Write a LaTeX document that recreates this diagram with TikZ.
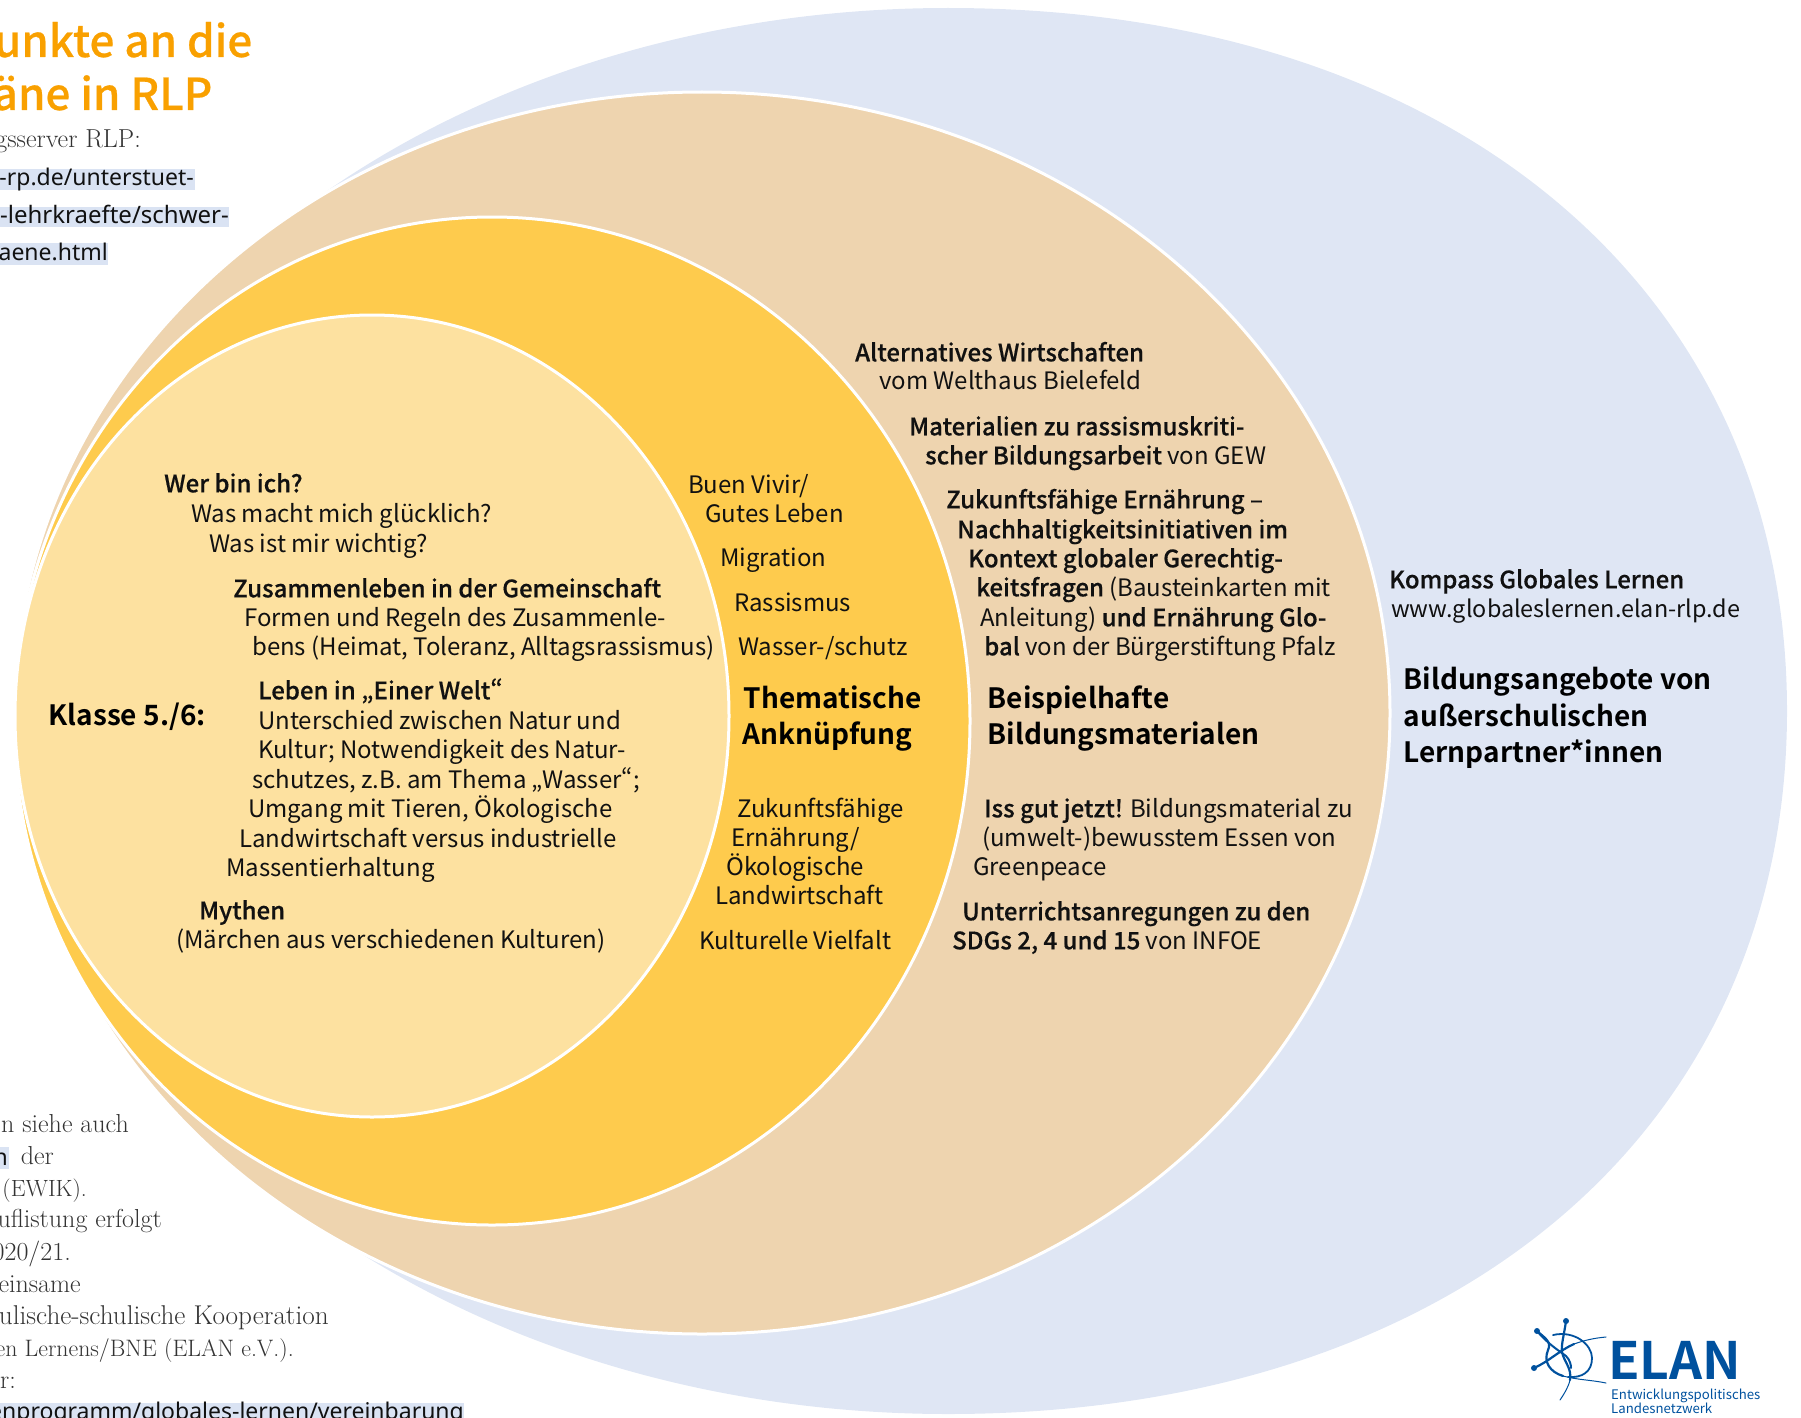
\documentclass[tikz,border=0pt]{standalone}
\usepackage{fontspec}
\setmainfont{Noto Sans CJK SC}[BoldFont={Noto Sans CJK SC Medium},BoldFeatures={FakeBold=0.45},RawFeature=+pwid]
\newfontfamily\headface{Noto Sans CJK SC Bold}[RawFeature=+pwid]
\newfontfamily\serifface{Latin Modern Roman}
\newfontfamily\linkface{Noto Sans}
\definecolor{blueback}{HTML}{DFE6F4}
\definecolor{tanring}{HTML}{EED4AF}
\definecolor{yellowring}{HTML}{FECB4D}
\definecolor{innerring}{HTML}{FDE1A0}
\definecolor{titleorange}{HTML}{F9A000}
\definecolor{linkback}{HTML}{DAE3F3}
\definecolor{elanblue}{HTML}{00519E}
\definecolor{greytext}{HTML}{333333}
\definecolor{inktext}{HTML}{111111}
\newcounter{tn}
\newcommand\tl[3]{\stepcounter{tn}\node[bodytext] (t\thetn) at (#1-1,#2+0.3) {#3};}
\newcommand\tb[3]{\stepcounter{tn}\node[headtext] (t\thetn) at (#1-1.5,#2+0.7) {#3};}
\newcommand\ts[4][26]{\stepcounter{tn}\node[serifright,font=\fontsize{#1}{#1}\selectfont\serifface] (t\thetn) at (#2,#3) {#4};}
\newcommand\tk[4][23]{\stepcounter{tn}\node[linkright,font=\fontsize{#1}{#1}\selectfont\linkface] (t\thetn) at (#2,#3+1.5) {#4};}
\tikzset{
  bodytext/.style={anchor=base west,inner sep=0pt,text=inktext,font=\fontsize{24}{24}\selectfont},
  headtext/.style={anchor=base west,inner sep=0pt,text=black,font=\fontsize{28}{28}\selectfont\headface},
  serifright/.style={anchor=base east,inner sep=0pt,text=greytext},
  linkright/.style={anchor=base east,inner sep=0pt,text=inktext},
  titletext/.style={anchor=base east,inner sep=0pt,text=titleorange,font=\fontsize{44}{44}\selectfont\bfseries},
  ring/.style={draw=white,line width=3pt},
  logoline/.style={draw=elanblue,line cap=round,line join=round}
}
\begin{document}
\begin{tikzpicture}[x=1pt,y=-1pt]
\useasboundingbox (0,0) rectangle (1801,1418);
\clip (0,0) rectangle (1801,1418);
% rings
\fill[blueback] (948,8) .. controls (1451,8) and (1787,289) .. (1787,711)
  .. controls (1787,1133) and (1451,1414) .. (948,1414)
  .. controls (438,1414) and (25,1099) .. (25,711)
  .. controls (25,323) and (438,8) .. (948,8) -- cycle;
\path[ring,fill=tanring] (702,713) ellipse [x radius=688pt,y radius=621pt];
\path[ring,fill=yellowring] (492,721) ellipse [x radius=478pt,y radius=504pt];
\path[ring,fill=innerring] (372,716) ellipse [x radius=357pt,y radius=401pt];
% link highlights
\fill[linkback] (0,169) rectangle (194.5,190);
\fill[linkback] (0,207) rectangle (229,227);
\fill[linkback] (0,243) rectangle (108,265);
\fill[linkback] (0,1147) rectangle (9,1169);
\fill[linkback] (0,1403) rectangle (464,1418);
% title and side notes
\node[titletext] (title1) at (252.5,57) {unkte an die};
\node[titletext] (title2) at (212.5,110) {äne in RLP};
\ts{141}{147}{gsserver RLP:}
\tk{194}{184}{-rp.de/unterstuet-}
\tk[24]{229}{222}{-lehrkraefte/schwer-}
\tk{108}{259}{aene.html}
\ts{129}{1132}{n siehe auch}
\tk{8}{1164}{n}
\ts{54}{1164}{der}
\ts[23.5]{87}{1196}{(EWIK).}
\ts{162}{1227}{uflistung erfolgt}
\ts{71}{1260}{020/21.}
\ts{81}{1292}{einsame}
\ts[27.2]{329}{1324}{ulische-schulische Kooperation}
\ts[23.8]{294}{1356}{en Lernens/BNE (ELAN e.V.).}
\ts{16}{1388}{r:}
\tk{464}{1418}{enprogramm/globales-lernen/vereinbarung}
% inner circle
\tb{50}{725}{Klasse 5./6:}
\tl{165}{492}{\bfseries Wer bin ich?}
\tl{192}{522}{Was macht mich glücklich?}
\tl{210}{552}{Was ist mir wichtig?}
\tl{234}{597}{\bfseries Zusammenleben in der Gemeinschaft}
\tl{245}{626}{Formen und Regeln des Zusammenle-}
\tl{253}{655}{bens (Heimat, Toleranz, Alltagsrassismus)}
\tl{259}{699}{\bfseries Leben in „Einer Welt“}
\tl{259}{729}{Unterschied zwischen Natur und}
\tl{259}{758}{Kultur; Notwendigkeit des Natur-}
\tl{253}{788}{schutzes, z.B. am Thema „Wasser“;}
\tl{249}{817}{Umgang mit Tieren, Ökologische}
\tl{240}{847}{Landwirtschaft versus industrielle}
\tl{227}{876}{Massentierhaltung}
\tl{200}{919}{\bfseries Mythen}
\tl{177}{948}{(Märchen aus verschiedenen Kulturen)}
% yellow ring
\tl{689}{493}{Buen Vivir/}
\tl{706}{522}{Gutes Leben}
\tl{721}{566}{Migration}
\tl{735}{611}{Rassismus}
\tl{739}{655}{Wasser-/schutz}
\tb{745}{708}{Thematische}
\tb{744}{744}{Anknüpfung}
\tl{738}{817}{Zukunftsfähige}
\tl{732}{846}{Ernährung/}
\tl{727}{875}{Ökologische}
\tl{716}{904}{Landwirtschaft}
\tl{700}{949}{Kulturelle Vielfalt}
% tan ring
\tl{856}{361}{\bfseries Alternatives Wirtschaften}
\tl{880}{389}{vom Welthaus Bielefeld}
\tl{910}{435}{\bfseries Materialien zu rassismuskriti-}
\tl{926}{464}{{\bfseries scher Bildungsarbeit} von GEW}
\tl{947}{508}{\bfseries Zukunftsfähige Ernährung –}
\tl{958}{538}{\bfseries Nachhaltigkeitsinitiativen im}
\tl{969}{567}{\bfseries Kontext globaler Gerechtig-}
\tl{977}{596}{{\bfseries keitsfragen} (Bausteinkarten mit}
\tl{981}{626}{Anleitung) {\bfseries und Ernährung Glo-}}
\tl{985}{655}{{\bfseries bal} von der Bürgerstiftung Pfalz}
\tb{989}{708}{Beispielhafte}
\tb{989}{744}{Bildungsmaterialen}
\tl{985}{817}{{\bfseries Iss gut jetzt!} Bildungsmaterial zu}
\tl{983}{846}{(umwelt-)bewusstem Essen von}
\tl{974}{875}{Greenpeace}
\tl{963}{920}{\bfseries Unterrichtsanregungen zu den}
\tl{953}{949}{{\bfseries SDGs 2, 4 und 15} von INFOE}
% outer ring
\tl{1390}{588}{\bfseries Kompass Globales Lernen}
\tl{1392}{617}{\fontsize{23.4}{23.4}\selectfont www.globaleslernen.elan-rlp.de}
\tb{1405}{689}{Bildungsangebote von}
\tb{1405}{726}{außerschulischen}
\tb{1405}{762}{Lernpartner*innen}
% logo
\draw[logoline,line width=2.2pt] (1537,1331) .. controls (1545,1338) and (1552,1342) .. (1548,1350)
  .. controls (1543,1362) and (1550,1372) .. (1563,1376);
\draw[logoline,line width=1pt] (1563,1376) .. controls (1578,1380) and (1592,1380) .. (1606,1383);
\draw[logoline,line width=2.2pt] (1566,1321) .. controls (1564,1335) and (1561,1345) .. (1562,1352)
  .. controls (1564,1362) and (1572,1368) .. (1570,1380);
\draw[logoline,line width=1pt] (1570,1380) .. controls (1568,1388) and (1564,1394) .. (1560,1400);
\draw[logoline,line width=2.2pt] (1534,1368) .. controls (1548,1362) and (1560,1350) .. (1574,1344);
\draw[logoline,line width=1pt] (1574,1344) .. controls (1585,1340) and (1595,1338) .. (1606,1337);
\draw[logoline,line width=1.8pt] (1553,1335) .. controls (1575,1330) and (1592,1345) .. (1592,1358)
  .. controls (1592,1372) and (1582,1378) .. (1568,1377);
\draw[logoline,line width=2pt] (1537,1331) .. controls (1548,1344) and (1558,1350) .. (1566,1356)
  .. controls (1570,1360) and (1571,1365) .. (1571,1368);
\fill[elanblue] (1537,1331) circle (3pt) (1566,1321) circle (3pt) (1534,1368) circle (3pt);
\node[anchor=base west,inner sep=0pt,text=elanblue,font=\fontsize{51.5}{51.5}\selectfont\headface] (elan) at (1608,1379) {ELAN};
\node[anchor=base west,inner sep=0pt,text=elanblue,font=\fontsize{13.2}{13.2}\selectfont] (elan2) at (1611,1399) {Entwicklungspolitisches};
\node[anchor=base west,inner sep=0pt,text=elanblue,font=\fontsize{13.2}{13.2}\selectfont] (elan3) at (1611,1413) {Landesnetzwerk};
\end{tikzpicture}
\end{document}
